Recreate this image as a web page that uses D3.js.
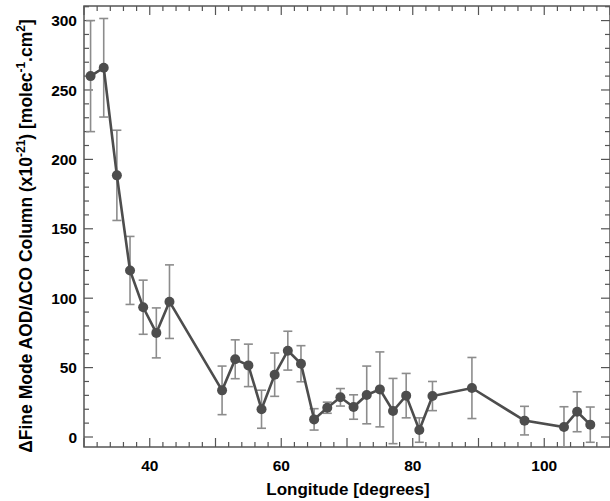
<!DOCTYPE html>
<html>
<head>
<meta charset="utf-8">
<script src="https://cdn.jsdelivr.net/npm/d3@7"></script>
<style>
  body { margin: 0; background: #fff; }
  svg { display: block; }
  text { font-family: "Liberation Sans", Arial, Helvetica, sans-serif; font-weight: bold; fill: #000; }
</style>
</head>
<body>
<svg id="chart" width="610" height="501"></svg>
<script>
const longitudes = [31, 33, 35, 37, 39, 41, 43, 51, 53, 55, 57, 59, 61, 63, 65, 67, 69, 71, 73, 75, 77, 79, 81, 83, 89, 97, 103, 105, 107];
const ratios     = [260, 266, 188.5, 120, 93.5, 75, 97.5, 33.6, 56, 51.6, 20, 44.9, 62.2, 52.8, 12.7, 21.1, 28.6, 21.6, 30.3, 34.3, 18.7, 29.8, 5, 29.5, 35.3, 11.8, 7.2, 18.2, 8.9];
const errors     = [40, 35.5, 32.5, 24.5, 19.5, 18, 26.5, 17.5, 14, 15.3, 13.7, 15.6, 14, 13, 7.7, 4, 6.3, 8.8, 20.8, 27, 23.5, 16, 8.8, 10.5, 22, 10.3, 14.6, 14.4, 12.7];
const xTickLabels = [40, 60, 80, 100];
const yTickLabels = [0, 50, 100, 150, 200, 250, 300];

const svg = d3.select("#chart");
const L = 84, R = 610, T = 6, B = 447;
const x = d3.scaleLinear().domain([30, 110]).range([L, R]);
const y = d3.scaleLinear().domain([-7.2, 310.5]).range([B, T]);

svg.append("defs").append("clipPath").attr("id", "clip")
  .append("rect").attr("x", L).attr("y", T).attr("width", R - L).attr("height", B - T);

const axisColor = "#555";
const g = svg.append("g");
const xMinor = d3.range(30, 111, 2);
const yMinor = d3.range(0, 311, 10);
xMinor.forEach(v => {
  const major = v % 10 === 0;
  const len = major ? 9 : 5;
  g.append("line").attr("x1", x(v)).attr("x2", x(v)).attr("y1", B).attr("y2", B - len).attr("stroke", axisColor).attr("stroke-width", 1.2);
  g.append("line").attr("x1", x(v)).attr("x2", x(v)).attr("y1", T).attr("y2", T + len).attr("stroke", axisColor).attr("stroke-width", 1.2);
});
yMinor.forEach(v => {
  const major = v % 50 === 0;
  const len = major ? 9 : 5;
  g.append("line").attr("x1", L).attr("x2", L + len).attr("y1", y(v)).attr("y2", y(v)).attr("stroke", axisColor).attr("stroke-width", 1.2);
  g.append("line").attr("x1", R).attr("x2", R - len).attr("y1", y(v)).attr("y2", y(v)).attr("stroke", axisColor).attr("stroke-width", 1.2);
});
g.append("rect").attr("x", L).attr("y", T).attr("width", R - L).attr("height", B - T)
  .attr("fill", "none").attr("stroke", axisColor).attr("stroke-width", 1.5);

svg.append("g").selectAll("text").data(xTickLabels).join("text")
  .attr("x", d => x(d)).attr("y", B + 24).attr("text-anchor", "middle")
  .attr("font-size", 15.5).text(d => d);
svg.append("g").selectAll("text").data(yTickLabels).join("text")
  .attr("x", L - 7).attr("y", d => y(d)).attr("dy", "0.36em").attr("text-anchor", "end")
  .attr("font-size", 15.5).text(d => d);

svg.append("text").attr("x", 348).attr("y", 495).attr("text-anchor", "middle")
  .attr("font-size", 17).text("Longitude [degrees]");

const yt = svg.append("text").attr("transform", "translate(32,236) rotate(-90)")
  .attr("text-anchor", "middle").attr("font-size", 17.5);
yt.append("tspan").text("\u0394Fine Mode AOD/\u0394CO Column (x10");
yt.append("tspan").attr("dy", -7).attr("font-size", 12).text("-21");
yt.append("tspan").attr("dy", 7).text(") [molec");
yt.append("tspan").attr("dy", -7).attr("font-size", 12).text("-1");
yt.append("tspan").attr("dy", 7).text(".cm");
yt.append("tspan").attr("dy", -7).attr("font-size", 12).text("2");
yt.append("tspan").attr("dy", 7).text("]");

const data = longitudes.map((lon, i) => ({ lon, v: ratios[i], e: errors[i] }));
const plot = svg.append("g").attr("clip-path", "url(#clip)");
const errColor = "#8c8c8c";
const eb = plot.append("g").selectAll("g").data(data).join("g");
eb.append("line").attr("x1", d => x(d.lon)).attr("x2", d => x(d.lon))
  .attr("y1", d => y(d.v + d.e)).attr("y2", d => y(d.v - d.e))
  .attr("stroke", errColor).attr("stroke-width", 1.6);
eb.append("line").attr("x1", d => x(d.lon) - 4.5).attr("x2", d => x(d.lon) + 4.5)
  .attr("y1", d => y(d.v + d.e)).attr("y2", d => y(d.v + d.e))
  .attr("stroke", errColor).attr("stroke-width", 1.6);
eb.append("line").attr("x1", d => x(d.lon) - 4.5).attr("x2", d => x(d.lon) + 4.5)
  .attr("y1", d => y(d.v - d.e)).attr("y2", d => y(d.v - d.e))
  .attr("stroke", errColor).attr("stroke-width", 1.6);

plot.append("path").datum(data)
  .attr("d", d3.line().x(d => x(d.lon)).y(d => y(d.v)))
  .attr("fill", "none").attr("stroke", "#4d4d4d").attr("stroke-width", 2.6);
plot.append("g").selectAll("circle").data(data).join("circle")
  .attr("cx", d => x(d.lon)).attr("cy", d => y(d.v)).attr("r", 5)
  .attr("fill", "#4d4d4d");
</script>
</body>
</html>
